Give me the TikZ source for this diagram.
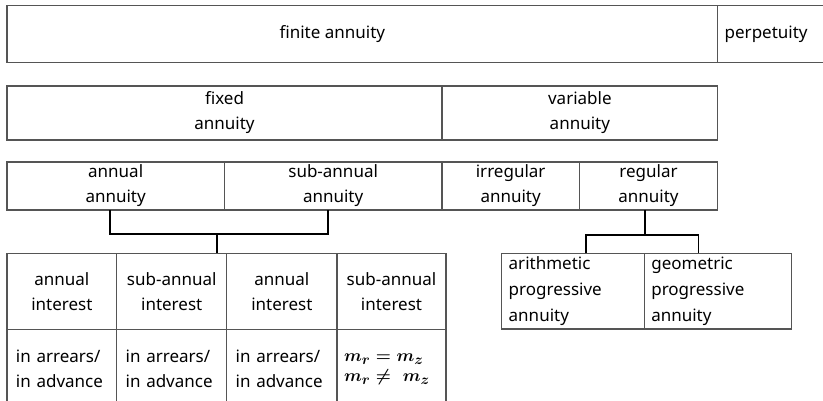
\documentclass[tikz,border=0pt]{standalone}
\usepackage{fontspec}
\setmainfont{Noto Sans}
\definecolor{cellline}{HTML}{555555}
\definecolor{txtcol}{HTML}{000000}
\tikzset{
  cell/.style={draw=cellline, line width=1.3pt, inner sep=0pt, outer sep=0pt,
    anchor=north west, align=center, text=txtcol, font=\fontsize{17}{25}\selectfont},
  lcell/.style={cell, align=left, inner xsep=#1},
  conn/.style={draw=black, line width=1.5pt},
}
\begin{document}
\begin{tikzpicture}[x=1pt,y=-1pt]
\useasboundingbox (0,0) rectangle (823,401);
% top row
\node[cell, minimum width=710.7pt, minimum height=57pt] (finite) at (7,5.5) {\hspace*{-60pt}finite annuity};
\node[lcell=7pt, text width=98pt, minimum height=57pt] (perp) at (717.7,5.5) {perpetuity};
% second row
\node[cell, minimum width=435pt, minimum height=54pt] (fixed) at (7,86) {fixed\\annuity};
\node[cell, minimum width=275.7pt, minimum height=54pt] (variable) at (442,86) {variable\\annuity};
% third row
\node[cell, minimum width=217.3pt, minimum height=48pt] (annual) at (7,162) {annual\\annuity};
\node[cell, minimum width=217.7pt, minimum height=48pt] (subann) at (224.3,162) {sub-annual\\annuity};
\node[cell, minimum width=137.3pt, minimum height=48pt] (irregular) at (442,162) {irregular\\annuity};
\node[cell, minimum width=138.4pt, minimum height=48pt] (regular) at (579.3,162) {regular\\annuity};
% left table, header row
\node[cell, minimum width=109.7pt, minimum height=75.8pt] (ai1) at (7,253.5) {annual\\interest};
\node[cell, minimum width=110pt, minimum height=75.8pt] (si1) at (116.7,253.5) {sub-annual\\interest};
\node[cell, minimum width=110.3pt, minimum height=75.8pt] (ai2) at (226.7,253.5) {annual\\interest};
\node[cell, minimum width=109pt, minimum height=75.8pt] (si2) at (337,253.5) {sub-annual\\interest};
% left table, second row
\node[lcell=9pt, text width=91.7pt, minimum height=80pt] (ia1) at (7,329.3) {in arrears/\\in advance};
\node[lcell=9pt, text width=92pt, minimum height=80pt] (ia2) at (116.7,329.3) {in arrears/\\in advance};
\node[lcell=9pt, text width=92.3pt, minimum height=80pt] (ia3) at (226.7,329.3) {in arrears/\\in advance};
\node[lcell=7pt, text width=95pt, minimum height=80pt, font=\fontsize{19}{20}\selectfont\mathversion{bold}] (mcell) at (337,329.3) {$m_r = m_z$\\$m_r \neq\ m_z$};
% right box
\node[lcell=7pt, text width=128.6pt, minimum height=75.5pt, font=\fontsize{17}{26}\selectfont] (arith) at (501.7,253.5) {arithmetic\\progressive\\annuity};
\node[lcell=7pt, text width=133.4pt, minimum height=75.5pt, font=\fontsize{17}{26}\selectfont] (geom) at (644.3,253.5) {geometric\\progressive\\annuity};
% connectors
\draw[conn] ([xshift=-5.5pt]annual.south) -- ++(0,24) -| ([xshift=-5pt]subann.south);
\coordinate (lj) at (217,234);
\draw[conn] (lj) -- (lj |- si1.north);
\draw[conn] ([xshift=-3.5pt]regular.south) -- ++(0,25) coordinate (rj);
\draw[conn] ([xshift=13pt]arith.north) |- (rj) -| ([xshift=-19.7pt]geom.north);
\end{tikzpicture}
\end{document}
